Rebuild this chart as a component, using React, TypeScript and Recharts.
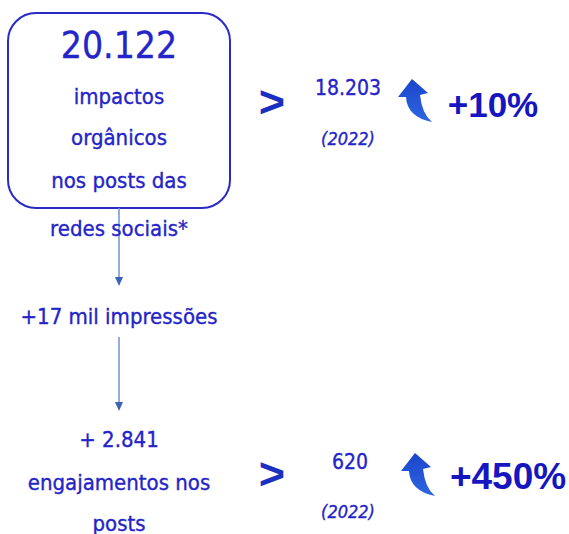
import { ReferenceArea, ReferenceLine, Scatter, ScatterChart, XAxis, YAxis } from "recharts";

// content
const mainValues = ["20.122", "+ 2.841"];
const mainLabels = [["impactos", "orgânicos", "nos posts das", "redes sociais*"], ["engajamentos nos", "posts"]];
const bridgeLabel = "+17 mil impressões";
const priorValues = ["18.203", "620"];
const priorYears = ["(2022)", "(2022)"];
const growth = ["+10%", "+450%"];

const W = 569;
const H = 534;
const TEXT = "#2424c8";
const DARK = "#1b2fc0";
const LINK = "#7392d2";
const FONT = "'DejaVu Sans Condensed', 'DejaVu Sans', sans-serif";

interface TextItem {
  x: number;
  y: number;
  text: string;
  size: number;
  weight?: number;
  italic?: boolean;
  color?: string;
  family?: string;
}

// layout
const leftX = 119;
const rowY = [101, 473];
const texts: TextItem[] = [
  { x: leftX, y: 45, text: mainValues[0], size: 37 },
  ...mainLabels[0].map((t, i) => ({ x: leftX, y: [96, 137, 180, 228][i], text: t, size: 22 })),
  { x: leftX, y: 316, text: bridgeLabel, size: 22 },
  { x: leftX, y: 439, text: mainValues[1], size: 22 },
  ...mainLabels[1].map((t, i) => ({ x: leftX, y: [482, 523][i], text: t, size: 22 })),
  ...rowY.map((y) => ({ x: 272, y: y, text: ">", size: 45, weight: 700, color: DARK, family: "'Liberation Sans', sans-serif" })),
  { x: 348, y: 88, text: priorValues[0], size: 21 },
  { x: 350, y: 462, text: priorValues[1], size: 21 },
  ...priorYears.map((t, i) => ({ x: 348, y: [138, 511][i], text: t, size: 18, italic: true })),
  { x: 493, y: 104, text: growth[0], size: 35, weight: 700, family: "'Liberation Sans', sans-serif", color: "#1616c0" },
  { x: 508, y: 476, text: growth[1], size: 37, weight: 700, family: "'Liberation Sans', sans-serif", color: "#1616c0" },
];
const arrows = [{ x: 417, y: 101 }, { x: 420, y: 475 }];
const heads = [{ x: leftX, y: 282 }, { x: leftX, y: 407 }];

function TextShape(props: any) {
  const p = props.payload as TextItem;
  return (
    <text
      x={props.cx}
      y={props.cy}
      textAnchor="middle"
      dominantBaseline="central"
      fontFamily={p.family ?? FONT}
      fontSize={p.size}
      fontWeight={p.weight ?? 400}
      fontStyle={p.italic ? "italic" : "normal"}
      fill={p.color ?? TEXT}
      stroke={p.weight ? "none" : p.color ?? TEXT}
      strokeWidth={0.35}
    >
      {p.text}
    </text>
  );
}

function CurvedArrow(props: any) {
  const { cx, cy } = props;
  return (
    <path
      transform={`translate(${cx},${cy})`}
      d="M -5 -22 L 11 -8 L 3 -6 Q 5 13 15 21 Q -10 16 -11 -4 L -19 -4 Z"
      fill="url(#arrowFill)"
    />
  );
}

function Head(props: any) {
  const { cx, cy } = props;
  return <path transform={`translate(${cx},${cy})`} d="M -4 -5 L 4 -5 L 0 4 Z" fill="#3c62b6" />;
}

export default function App() {
  return (
    <div style={{ position: "absolute", left: 0, top: 0, width: W, height: H, background: "#fff" }}>
      <ScatterChart width={W} height={H} margin={{ top: 0, right: 0, bottom: 0, left: 0 }}>
        <defs>
          <linearGradient id="arrowFill" x1="0" y1="0" x2="0" y2="1">
            <stop offset="0%" stopColor="#1a44cc" />
            <stop offset="100%" stopColor="#2e66e0" />
          </linearGradient>
        </defs>
        <XAxis type="number" dataKey="x" domain={[0, W]} hide />
        <YAxis type="number" dataKey="y" domain={[0, H]} reversed hide />
        <ReferenceArea
          x1={8}
          x2={230}
          y1={13}
          y2={208}
          shape={(p: any) => (
            <rect x={p.x} y={p.y} width={p.width} height={p.height} rx={28} ry={28} fill="none" stroke="#2a2ac4" strokeWidth={2} />
          )}
        />
        <ReferenceLine segment={[{ x: leftX, y: 208 }, { x: leftX, y: 280 }]} stroke={LINK} strokeWidth={1.5} />
        <ReferenceLine segment={[{ x: leftX, y: 337 }, { x: leftX, y: 405 }]} stroke={LINK} strokeWidth={1.5} />
        <Scatter data={heads} shape={<Head />} isAnimationActive={false} />
        <Scatter data={arrows} shape={<CurvedArrow />} isAnimationActive={false} />
        <Scatter data={texts} shape={<TextShape />} isAnimationActive={false} />
      </ScatterChart>
    </div>
  );
}
